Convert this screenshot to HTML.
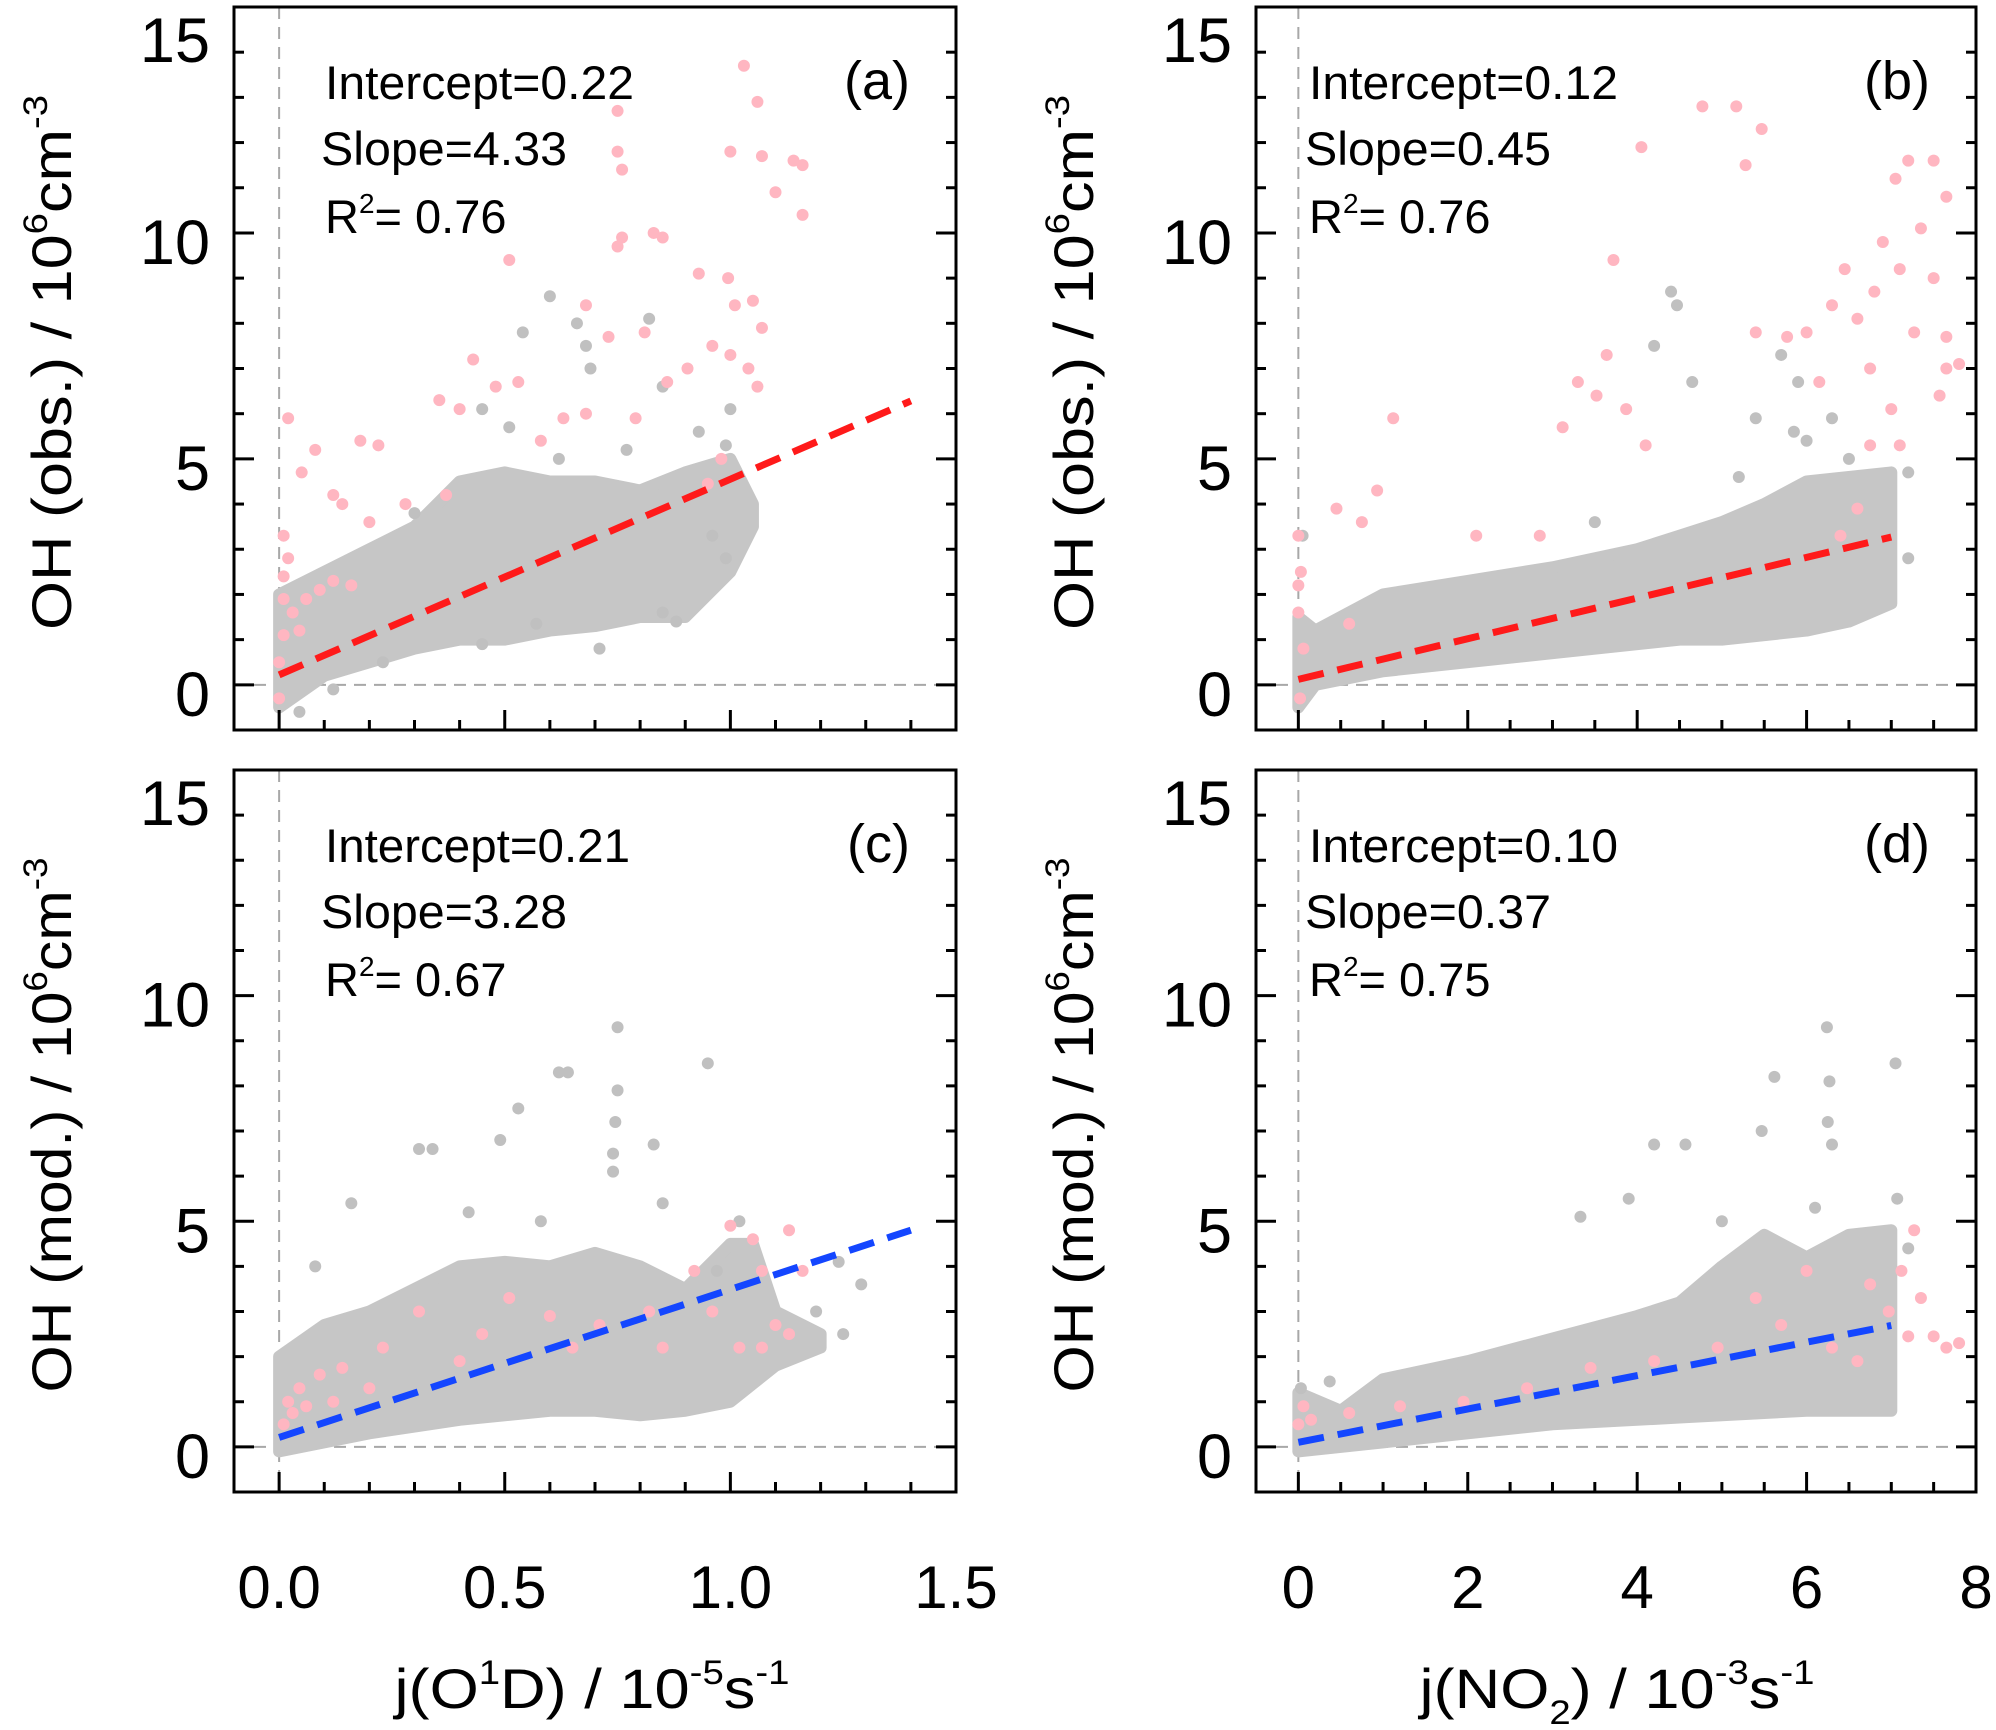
<!DOCTYPE html>
<html><head><meta charset="utf-8"><style>
html,body{margin:0;padding:0;background:#fff;}
svg{display:block;font-family:"Liberation Sans",Arial,sans-serif;}
</style></head><body>
<svg id="chart" width="1996" height="1730" viewBox="0 0 1996 1730">
<defs>
<clipPath id="clipA"><rect x="234" y="7" width="722" height="723"/></clipPath>
<clipPath id="clipB"><rect x="1256" y="7" width="720" height="723"/></clipPath>
<clipPath id="clipC"><rect x="234" y="770" width="722" height="722"/></clipPath>
<clipPath id="clipD"><rect x="1256" y="770" width="720" height="722"/></clipPath>
</defs>
</svg>
<script>
// ---- data ----
const aStats = ["Intercept=0.22","Slope=4.33","0.76"];
const bStats = ["Intercept=0.12","Slope=0.45","0.76"];
const cStats = ["Intercept=0.21","Slope=3.28","0.67"];
const dStats = ["Intercept=0.10","Slope=0.37","0.75"];
const aFit = [0.22, 4.33, 1.4];
const bFit = [0.12, 0.45, 7.0];
const cFit = [0.21, 3.28, 1.4];
const dFit = [0.10, 0.37, 7.0];
const xTicksJO1D = [0.0, 0.5, 1.0, 1.5];
const xTickLabelsJO1D = ["0.0","0.5","1.0","1.5"];
const xTicksJNO2 = [0, 2, 4, 6, 8];
const xTickLabelsJNO2 = ["0","2","4","6","8"];
const yTicks = [0, 5, 10, 15];
const yTickLabels = ["0","5","10","15"];

const aCloudX  = [0,0.1,0.2,0.3,0.4,0.5,0.6,0.7,0.8,0.9,1.0,1.05];
const aCloudLo = [-0.5,0.2,0.5,0.8,1.0,1.0,1.2,1.3,1.5,1.5,2.5,3.5];
const aCloudHi = [2.0,2.5,3.0,3.5,4.5,4.7,4.5,4.5,4.3,4.7,5.0,4.0];
const bCloudX  = [0,0.2,1,2,3,4,4.5,5,5.5,6,6.5,7];
const bCloudLo = [-0.5,0.0,0.3,0.5,0.7,0.9,1.0,1.0,1.1,1.2,1.4,1.8];
const bCloudHi = [1.5,1.2,2.0,2.3,2.6,3.0,3.3,3.6,4.0,4.5,4.6,4.7];
const cCloudX  = [0,0.1,0.2,0.3,0.4,0.5,0.6,0.7,0.8,0.9,1.0,1.05,1.1,1.2];
const cCloudLo = [-0.1,0.1,0.3,0.45,0.6,0.7,0.8,0.8,0.7,0.8,1.0,1.4,1.8,2.2];
const cCloudHi = [2.0,2.7,3.0,3.5,4.0,4.1,4.0,4.3,4.0,3.5,4.5,4.5,3.0,2.5];
const dCloudX  = [0,0.5,1,2,3,4,4.5,5,5.5,6,6.5,7];
const dCloudLo = [-0.1,0.0,0.1,0.3,0.5,0.6,0.65,0.7,0.75,0.8,0.8,0.8];
const dCloudHi = [1.2,0.8,1.5,1.9,2.4,2.9,3.2,4.0,4.7,4.2,4.7,4.8];

const aGrey = [[0.6,8.6],[0.54,7.8],[0.66,8.0],[0.68,7.5],[0.82,8.1],[0.85,6.6],[0.69,7.0],[0.45,6.1],[0.51,5.7],[1.0,6.1],[0.99,5.3],[0.99,2.8],[0.96,3.3],[0.85,1.6],[0.88,1.4],[0.57,1.35],[0.12,-0.1],[0.045,-0.6],[0.23,0.5],[0.45,0.9],[0.71,0.8],[0.77,5.2],[0.62,5.0],[0.3,3.8],[0.93,5.6]];
const aPink = [[1.03,13.7],[1.06,12.9],[0.75,12.7],[0.75,11.8],[0.76,11.4],[1.0,11.8],[1.07,11.7],[1.14,11.6],[1.16,11.5],[1.1,10.9],[1.16,10.4],[0.76,9.9],[0.75,9.7],[0.83,10.0],[0.85,9.9],[0.51,9.4],[0.93,9.1],[0.995,9.0],[1.01,8.4],[1.05,8.5],[1.07,7.9],[0.68,8.4],[0.73,7.7],[0.81,7.8],[0.96,7.5],[1.0,7.3],[1.04,7.0],[1.06,6.6],[0.905,7.0],[0.86,6.7],[0.63,5.9],[0.68,6.0],[0.43,7.2],[0.48,6.6],[0.355,6.3],[0.4,6.1],[0.53,6.7],[0.58,5.4],[0.79,5.9],[0.22,5.3],[0.18,5.4],[0.08,5.2],[0.02,5.9],[0.05,4.7],[0.12,4.2],[0.14,4.0],[0.2,3.6],[0.28,4.0],[0.37,4.2],[0.98,5.0],[0.95,4.45],[0.01,3.3],[0.02,2.8],[0.01,1.9],[0.03,1.6],[0.06,1.9],[0.09,2.1],[0.12,2.3],[0.16,2.2],[0.01,1.1],[0.045,1.2],[0.0,0.5],[0.0,-0.3],[0.01,2.4]];
const bGrey = [[4.4,8.7],[4.47,8.4],[4.2,7.5],[4.65,6.7],[5.4,5.9],[5.7,7.3],[5.9,6.7],[6.3,5.9],[6.5,5.0],[5.85,5.6],[7.2,4.7],[7.2,2.8],[6.0,5.4],[5.2,4.6],[3.5,3.6],[0.05,3.3]];
const bPink = [[4.77,12.8],[5.28,11.5],[5.17,12.8],[5.47,12.3],[4.05,11.9],[7.2,11.6],[7.5,11.6],[7.65,10.8],[7.05,11.2],[6.9,9.8],[7.35,10.1],[6.45,9.2],[6.6,8.1],[6.8,8.7],[7.1,9.2],[7.5,9.0],[7.65,7.7],[7.27,7.8],[7.65,7.0],[7.8,7.1],[7.57,6.4],[6.3,8.4],[6.0,7.8],[6.15,6.7],[6.75,7.0],[7.0,6.1],[7.1,5.3],[6.75,5.3],[5.77,7.7],[5.4,7.8],[3.72,9.4],[3.64,7.3],[3.52,6.4],[3.87,6.1],[4.1,5.3],[3.12,5.7],[3.3,6.7],[1.12,5.9],[0.93,4.3],[0.75,3.6],[0.45,3.9],[2.1,3.3],[2.85,3.3],[0,3.3],[0.03,2.5],[0,1.6],[0.06,0.8],[0.6,1.35],[6.4,3.3],[6.6,3.9],[0,2.2],[0.02,-0.3]];
const cGrey = [[0.75,9.3],[0.75,7.9],[0.745,7.2],[0.74,6.5],[0.74,6.1],[0.62,8.3],[0.64,8.3],[0.95,8.5],[0.53,7.5],[0.31,6.6],[0.34,6.6],[0.49,6.8],[0.83,6.7],[0.16,5.4],[0.08,4.0],[1.24,4.1],[1.29,3.6],[1.25,2.5],[1.19,3.0],[0.97,3.9],[1.02,5.0],[0.85,5.4],[0.58,5.0],[0.42,5.2]];
const cPink = [[1.05,4.6],[1.0,4.9],[1.13,4.8],[1.16,3.9],[1.07,3.9],[1.1,2.7],[1.02,2.2],[1.07,2.2],[1.13,2.5],[0.96,3.0],[0.82,3.0],[0.71,2.7],[0.6,2.9],[0.51,3.3],[0.45,2.5],[0.31,3.0],[0.23,2.2],[0.14,1.75],[0.09,1.6],[0.045,1.3],[0.02,1.0],[0.03,0.75],[0.06,0.9],[0.01,0.5],[0.12,1.0],[0.2,1.3],[0.4,1.9],[0.65,2.2],[0.85,2.2],[0.92,3.9]];
const dGrey = [[6.24,9.3],[6.27,8.1],[6.25,7.2],[6.3,6.7],[5.62,8.2],[4.2,6.7],[4.57,6.7],[7.05,8.5],[3.33,5.1],[3.9,5.5],[5.47,7.0],[7.07,5.5],[7.2,4.4],[0.37,1.45],[0.03,1.3],[6.1,5.3],[5.0,5.0]];
const dPink = [[7.27,4.8],[7.12,3.9],[7.35,3.3],[7.5,2.45],[7.65,2.2],[7.8,2.3],[7.2,2.45],[6.97,3.0],[6.6,1.9],[6.3,2.2],[5.7,2.7],[5.4,3.3],[4.95,2.2],[4.2,1.9],[3.45,1.75],[2.7,1.3],[1.95,1.0],[1.2,0.9],[0.6,0.75],[0.15,0.6],[0.06,0.9],[0,0.5],[6.0,3.9],[6.75,3.6]];

// ---- drawing ----
const NS = "http://www.w3.org/2000/svg";
const svg = document.getElementById('chart');
function mk(tag, attrs, parent){
  const e = document.createElementNS(NS, tag);
  for (const k in attrs) e.setAttribute(k, attrs[k]);
  (parent||svg).appendChild(e);
  return e;
}
function makeScale(d0,d1,r0,r1){ return v => r0 + (v-d0)/(d1-d0)*(r1-r0); }

const panels = [
 {id:'a', L:234,R:956,T:7,B:730, xmin:-0.1,xmax:1.5, xt:xTicksJO1D, xl:xTickLabelsJO1D, xminor:0.1, stats:aStats, fit:aFit, color:'#ff1a1a', cx:aCloudX, lo:aCloudLo, hi:aCloudHi, grey:aGrey, pink:aPink, clip:'clipA', lbl:'(a)', ylab:'obs.', bottom:false},
 {id:'b', L:1256,R:1976,T:7,B:730, xmin:-0.5,xmax:8, xt:xTicksJNO2, xl:xTickLabelsJNO2, xminor:0.5, stats:bStats, fit:bFit, color:'#ff1a1a', cx:bCloudX, lo:bCloudLo, hi:bCloudHi, grey:bGrey, pink:bPink, clip:'clipB', lbl:'(b)', ylab:'obs.', bottom:false},
 {id:'c', L:234,R:956,T:770,B:1492, xmin:-0.1,xmax:1.5, xt:xTicksJO1D, xl:xTickLabelsJO1D, xminor:0.1, stats:cStats, fit:cFit, color:'#1446ff', cx:cCloudX, lo:cCloudLo, hi:cCloudHi, grey:cGrey, pink:cPink, clip:'clipC', lbl:'(c)', ylab:'mod.', bottom:true},
 {id:'d', L:1256,R:1976,T:770,B:1492, xmin:-0.5,xmax:8, xt:xTicksJNO2, xl:xTickLabelsJNO2, xminor:0.5, stats:dStats, fit:dFit, color:'#1446ff', cx:dCloudX, lo:dCloudLo, hi:dCloudHi, grey:dGrey, pink:dPink, clip:'clipD', lbl:'(d)', ylab:'mod.', bottom:true}
];

panels.forEach(p => {
  const sx = makeScale(p.xmin, p.xmax, p.L, p.R);
  const sy = makeScale(-1, 15, p.B, p.T);
  const g = mk('g', {});
  
  
  const plot = mk('g', {'clip-path':'url(#'+p.clip+')'}, g);
  
  

  const zh = mk('line', {x1:p.L,x2:p.R,y1:sy(0),y2:sy(0),stroke:'#a8a8a8','stroke-width':2,'stroke-dasharray':'12 8'}, plot);
  
  
  const zv = mk('line', {x1:sx(0),x2:sx(0),y1:p.T,y2:p.B,stroke:'#a8a8a8','stroke-width':2,'stroke-dasharray':'12 8'}, plot);
  
  

  let pts = [];
  for (let i=0;i<p.cx.length;i++) pts.push(sx(p.cx[i])+','+sy(p.hi[i]));
  for (let i=p.cx.length-1;i>=0;i--) pts.push(sx(p.cx[i])+','+sy(p.lo[i]));
  const cloud = mk('polygon', {points:pts.join(' '), fill:'#c6c6c6', stroke:'#c6c6c6','stroke-width':12,'stroke-linejoin':'round'}, plot);
  
  

  p.grey.forEach(d => {
    const c = mk('circle', {cx:sx(d[0]), cy:sy(d[1]), r:6, fill:'#c0c0c0'}, plot);
    
    
  });
  p.pink.forEach(d => {
    const c = mk('circle', {cx:sx(d[0]), cy:sy(d[1]), r:6, fill:'#ffb6c1'}, plot);
    
    
  });

  const fl = mk('line', {x1:sx(0), y1:sy(p.fit[0]), x2:sx(p.fit[2]), y2:sy(p.fit[0]+p.fit[1]*p.fit[2]), stroke:p.color, 'stroke-width':7, 'stroke-dasharray':'26 14'}, plot);
  
  

  const fr = mk('rect', {x:p.L, y:p.T, width:p.R-p.L, height:p.B-p.T, fill:'none', stroke:'#000','stroke-width':3}, g);
  
  

  for (let v=-1; v<=15; v++) {
    const major = yTicks.indexOf(v) >= 0;
    const len = major ? 20 : 10;
    const y = sy(v);
    const t1 = mk('line', {x1:p.L, x2:p.L+len, y1:y, y2:y, stroke:'#000','stroke-width':3}, g);
    
    
    const t2 = mk('line', {x1:p.R, x2:p.R-len, y1:y, y2:y, stroke:'#000','stroke-width':3}, g);
    
    
  }
  yTicks.forEach((v,i) => {
    const off = (v === 15) ? 55 : 31;
    const t = mk('text', {x:p.L-24, y:sy(v)+off, 'text-anchor':'end', 'font-size':63}, g);
    t.textContent = yTickLabels[i];
    
    
  });

  const nMinor = Math.round((p.xmax - 0) / p.xminor);
  for (let k=0; k<=nMinor; k++) {
    const v = k * p.xminor;
    const major = p.xt.some(m => Math.abs(m - v) < 1e-6);
    const len = major ? 20 : 10;
    const x = sx(v);
    const t = mk('line', {x1:x, x2:x, y1:p.B, y2:p.B-len, stroke:'#000','stroke-width':3}, g);
    
    
  }
  if (p.bottom) {
    p.xt.forEach((v,i) => {
      const t = mk('text', {x:sx(v), y:1608, 'text-anchor':'middle', 'font-size':60}, g);
      t.textContent = p.xl[i];
      
      
    });
  }

  const ax = p.L + (p.id==='a'||p.id==='c' ? 91 : 53);
  const ay = p.T + 92;
  const s1 = mk('text', {x:ax, y:ay, 'font-size':47, textLength:(p.id==='c'?305:309), lengthAdjust:'spacingAndGlyphs'}, g);
  s1.textContent = p.stats[0];
  
  
  const s2 = mk('text', {x:ax-4, y:ay+66, 'font-size':47, textLength:246, lengthAdjust:'spacingAndGlyphs'}, g);
  s2.textContent = p.stats[1];
  
  
  const s3 = mk('text', {x:ax, y:ay+134, 'font-size':47}, g);
  s3.innerHTML = 'R<tspan dy="-20" font-size="28">2</tspan><tspan dy="20">= ' + p.stats[2] + '</tspan>';
  
  
  const pl = mk('text', {x:p.R-46, y:ay, 'text-anchor':'end', 'font-size':54}, g);
  pl.textContent = p.lbl;
  
  

  const cxT = (p.L < 600) ? 51 : 1073;
  const cyT = (p.T + p.B) / 2 - 6;
  const yt = mk('text', {x:0, y:0, 'text-anchor':'middle', 'font-size':56, transform:'translate('+(cxT+20)+','+cyT+') rotate(-90)', textLength:535, lengthAdjust:'spacingAndGlyphs'}, g);
  yt.innerHTML = 'OH (' + p.ylab + ') / 10<tspan dy="-24" font-size="34">6</tspan><tspan dy="24">cm</tspan><tspan dy="-24" font-size="34">-3</tspan>';
  
  
});

const xt1 = mk('text', {x:592, y:1708, 'text-anchor':'middle', 'font-size':56, textLength:395, lengthAdjust:'spacingAndGlyphs'});
xt1.innerHTML = 'j(O<tspan dy="-24" font-size="34">1</tspan><tspan dy="24">D) / 10</tspan><tspan dy="-24" font-size="34">-5</tspan><tspan dy="24">s</tspan><tspan dy="-24" font-size="34">-1</tspan>';


const xt2 = mk('text', {x:1617, y:1708, 'text-anchor':'middle', 'font-size':56, textLength:395, lengthAdjust:'spacingAndGlyphs'});
xt2.innerHTML = 'j(NO<tspan dy="16" font-size="34">2</tspan><tspan dy="-16">) / 10</tspan><tspan dy="-24" font-size="34">-3</tspan><tspan dy="24">s</tspan><tspan dy="-24" font-size="34">-1</tspan>';


</script>
</body></html>
